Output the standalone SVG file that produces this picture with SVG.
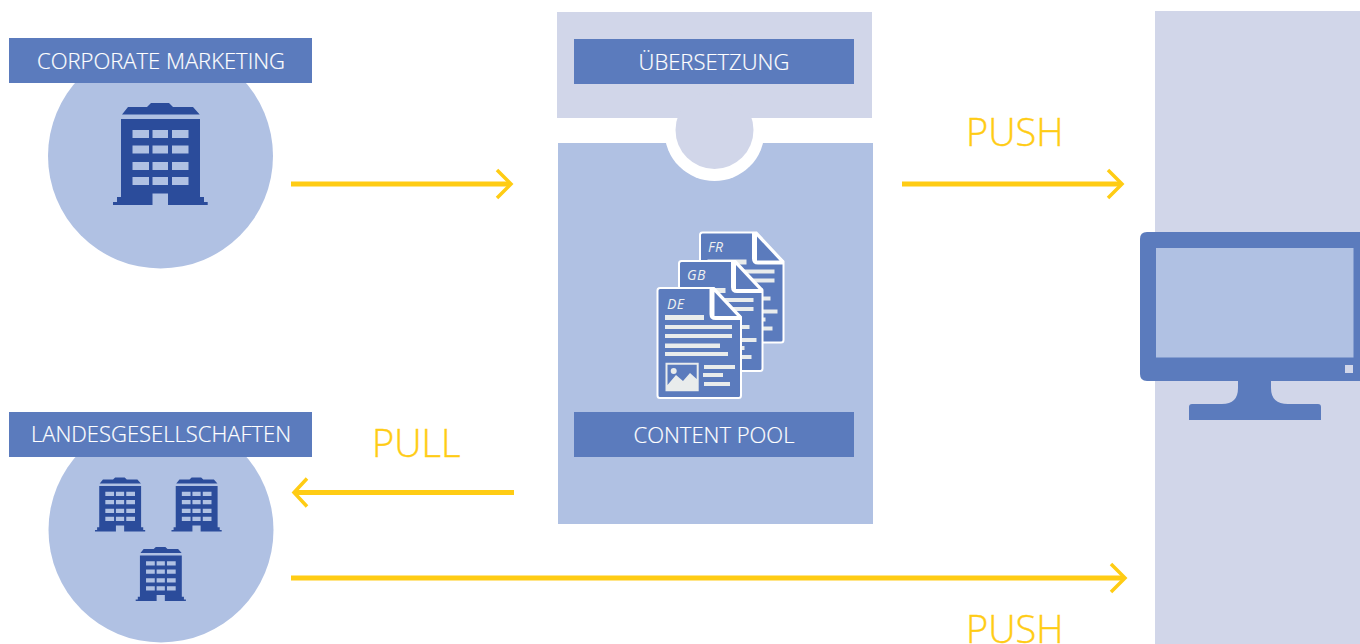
<svg xmlns="http://www.w3.org/2000/svg" width="1360" height="644" viewBox="0 0 1360 644">
<style>
.lbl{font-family:"Open Sans","Liberation Sans",sans-serif;font-size:22px;font-weight:300;fill:#fff;text-anchor:middle;stroke:#fff;stroke-width:.2}
.big{font-family:"Open Sans","Liberation Sans",sans-serif;font-size:38px;fill:#ffcc14;font-weight:300;stroke:#ffcc14;stroke-width:.4}
.hand{font-family:"Open Sans","Liberation Sans",sans-serif;font-size:14px;font-style:italic;fill:#eef0f0;letter-spacing:.4px}
.bar{fill:#5b7bbd}
.soft{fill:#b0c1e3}
.pale{fill:#d1d6e9}
.line{fill:none;stroke:#ffcc14;stroke-width:5}
.head{fill:none;stroke:#ffcc14;stroke-width:3.500}
</style>
<defs>
<g id="building" fill="#2b4c9b">
<path d="M122 114.500L128 107H147L151 103H169L173 107H193L199.700 114.500Z"/>
<path fill-rule="evenodd" d="M121 119H200V197H204V202H207.700V205H168V193.500H152.500V205H113V202H117V197H121Z M132.500 130V138H149V130Z M152.500 130V138H168V130Z M172 130V138H188.500V130Z M132.500 145.500V153.500H149V145.500Z M152.500 145.500V153.500H168V145.500Z M172 145.500V153.500H188.500V145.500Z M132.500 162V170H149V162Z M152.500 162V170H168V162Z M172 162V170H188.500V162Z M132.500 177V185H149V177Z M152.500 177V185H168V177Z M172 177V185H188.500V177Z"/>
</g>
<g id="doc">
<path d="M660 288H714L741 317V395.500Q741 398 738.500 398H660Q657.500 398 657.500 395.500V290.500Q657.500 288 660 288Z" fill="#5b7bbd" stroke="#fff" stroke-width="2"/>
<path d="M709.500 288V314Q709.500 320 715.500 320H741V316L714 288Z" fill="#fff"/>
<path d="M714.500 292L737 316H714.500Z" fill="#5b7bbd"/>
<g fill="#e9ecec">
<rect x="665" y="315" width="39" height="5"/>
<rect x="665" y="325" width="67" height="4"/>
<rect x="665" y="334" width="67" height="4"/>
<rect x="665" y="343.500" width="55" height="4.500"/>
<rect x="665" y="352" width="63" height="4"/>
<rect x="704" y="365" width="31" height="4"/>
<rect x="703" y="373" width="20" height="4"/>
<rect x="704" y="382" width="26" height="4"/>
<path fill-rule="evenodd" d="M665.500 362.700H698.700V391.300H665.500Z M667.500 364.700V385L676 375L683 381L690 373L696.700 379V364.700Z"/>
<circle cx="673.700" cy="371" r="3"/>
</g>
</g>
</defs>

<g id="screen-band"><rect class="pale" x="1155" y="11" width="205" height="633"/></g>

<g id="content-pool">
<rect class="soft" x="558" y="143" width="315" height="381"/>
<circle cx="714.500" cy="131" r="50" fill="#fff"/>
<rect x="574" y="412" width="280" height="45" class="bar"/>
<text class="lbl" x="714" y="443">CONTENT POOL</text>
<use href="#doc" x="42.500" y="-55.500"/>
<text class="hand" x="708" y="252">FR</text>
<use href="#doc" x="21.500" y="-27"/>
<text class="hand" x="687" y="280">GB</text>
<use href="#doc"/>
<text class="hand" x="667" y="309">DE</text>
</g>

<g id="uebersetzung">
<rect class="pale" x="557" y="12" width="315" height="106"/>
<circle class="pale" cx="714.500" cy="130" r="39"/>
<rect x="574" y="39" width="280" height="45" class="bar"/>
<text class="lbl" x="714" y="70">ÜBERSETZUNG</text>
</g>

<g id="corporate-marketing">
<circle class="soft" cx="160.500" cy="156" r="112.500"/>
<rect x="9" y="38" width="303" height="45" class="bar"/>
<text class="lbl" x="161" y="69">CORPORATE MARKETING</text>
<use href="#building"/>
</g>

<g id="landesgesellschaften">
<circle class="soft" cx="161" cy="530" r="112.500"/>
<rect x="9" y="412" width="303" height="45" class="bar"/>
<text class="lbl" x="161" y="442">LANDESGESELLSCHAFTEN</text>
<use href="#building" transform="translate(35.100 422.900) scale(.53)"/>
<use href="#building" transform="translate(111.600 422.900) scale(.53)"/>
<use href="#building" transform="translate(75.800 492.400) scale(.53)"/>
</g>

<g id="monitor">
<path class="bar" d="M1360 232H1147Q1140 232 1140 239V374Q1140 381 1147 381H1238V388Q1238 404 1222 404H1192Q1189 404 1189 407V420H1321V407Q1321 404 1318 404H1288Q1271 404 1271 388V381H1360Z"/>
<rect class="soft" x="1156" y="248" width="197.500" height="109.500"/>
<rect x="1345" y="365" width="8" height="8" fill="#d1d6e9"/>
</g>

<g id="connectors">
<path class="line" d="M291 184H510"/><path class="head" d="M497 170L511 184L497 198"/>
<path class="line" d="M902 184H1121"/><path class="head" d="M1108 170L1122 184L1108 198"/>
<path class="line" d="M514 492.500H295"/><path class="head" d="M307 478.500L294 492.500L307 506.500"/>
<path class="line" d="M291 578H1124"/><path class="head" d="M1111 564L1125 578L1111 592"/>
</g>
<g id="connector-labels">
<text class="big" x="966" y="146">PUSH</text>
<text class="big" x="372" y="457">PULL</text>
<text class="big" x="966" y="643">PUSH</text>
</g>
</svg>
